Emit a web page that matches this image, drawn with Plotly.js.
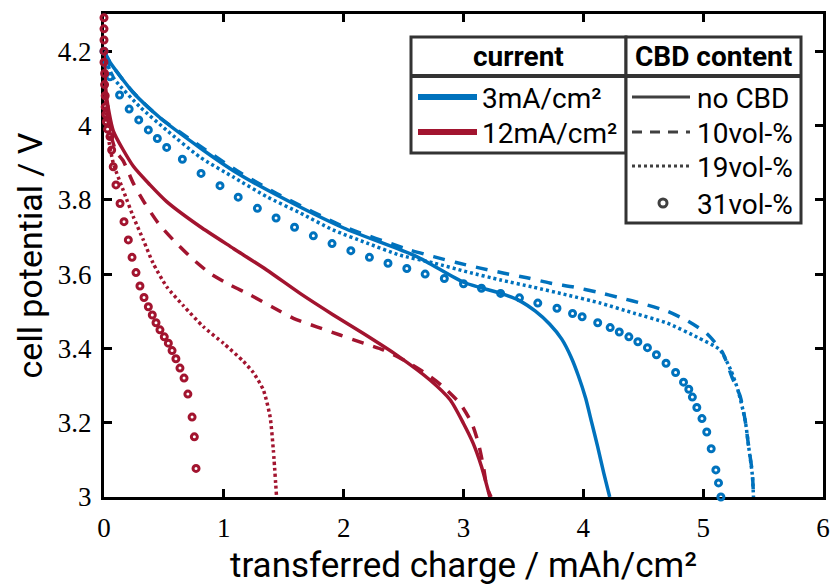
<!DOCTYPE html>
<html>
<head>
<meta charset="utf-8">
<script src="https://cdn.plot.ly/plotly-3.0.1.min.js"></script>
<style>html,body{margin:0;padding:0;background:#fff;}#chart{width:830px;height:586px;}</style>
</head>
<body>
<div id="chart"></div>
<script>
// ---- data (transferred charge in mAh/cm², cell potential in V) ----
const blueSolidQ = [0, 0.05, 0.24, 0.47, 0.80, 1.11, 1.47, 2.00, 2.61, 3.00, 3.31, 3.47, 3.60, 3.72, 3.82, 3.90, 3.96, 4.02, 4.07, 4.12, 4.17, 4.22];
const blueSolidV = [4.20, 4.17, 4.09, 4.02, 3.94, 3.872, 3.808, 3.724, 3.647, 3.578, 3.548, 3.528, 3.50, 3.465, 3.425, 3.375, 3.325, 3.265, 3.20, 3.135, 3.065, 3.0];

const blueDashQ = [0, 0.05, 0.24, 0.47, 0.80, 1.11, 1.47, 2.00, 2.55, 2.75, 2.94, 3.14, 3.33, 3.53, 3.72, 3.92, 4.11, 4.31, 4.50, 4.70, 4.87, 5.03, 5.16, 5.24, 5.31, 5.35, 5.38, 5.41, 5.42];
const blueDashV = [4.20, 4.17, 4.09, 4.02, 3.945, 3.878, 3.812, 3.728, 3.665, 3.647, 3.631, 3.616, 3.603, 3.59, 3.576, 3.565, 3.552, 3.536, 3.52, 3.50, 3.474, 3.44, 3.39, 3.323, 3.27, 3.207, 3.135, 3.065, 3.0];

const blueDotQ = [0, 0.08, 0.30, 0.52, 0.80, 1.08, 1.36, 1.64, 1.91, 2.19, 2.47, 2.75, 3.03, 3.31, 3.58, 3.86, 4.14, 4.42, 4.70, 4.95, 5.14, 5.23, 5.29, 5.35, 5.38, 5.41, 5.42];
const blueDotV = [4.19, 4.128, 4.05, 3.988, 3.915, 3.861, 3.808, 3.764, 3.719, 3.684, 3.651, 3.63, 3.606, 3.584, 3.565, 3.544, 3.522, 3.495, 3.468, 3.43, 3.396, 3.342, 3.288, 3.207, 3.135, 3.06, 3.0];

const blueCircQ = [0, 0.02, 0.05, 0.13, 0.21, 0.29, 0.37, 0.445, 0.523, 0.654, 0.81, 0.968, 1.12, 1.28, 1.436, 1.59, 1.747, 1.903, 2.06, 2.215, 2.37, 2.527, 2.68, 2.84, 3.0, 3.15, 3.31, 3.467, 3.62, 3.78, 3.91, 3.99, 4.12, 4.224, 4.30, 4.38, 4.455, 4.535, 4.61, 4.69, 4.77, 4.836, 4.88, 4.91, 4.947, 4.99, 5.03, 5.067, 5.106, 5.128, 5.148];
const blueCircV = [4.20, 4.165, 4.131, 4.082, 4.044, 4.015, 3.988, 3.965, 3.941, 3.909, 3.871, 3.838, 3.807, 3.777, 3.751, 3.726, 3.703, 3.682, 3.663, 3.645, 3.629, 3.615, 3.60, 3.588, 3.574, 3.562, 3.548, 3.536, 3.522, 3.508, 3.494, 3.485, 3.469, 3.456, 3.444, 3.431, 3.418, 3.402, 3.383, 3.36, 3.335, 3.309, 3.29, 3.269, 3.241, 3.211, 3.175, 3.13, 3.073, 3.038, 3.0];

const redSolidQ = [0, 0.02, 0.078, 0.245, 0.384, 0.523, 0.80, 1.08, 1.358, 1.636, 1.914, 2.165, 2.443, 2.72, 2.89, 3.0, 3.08, 3.15, 3.22];
const redSolidV = [4.20, 4.08, 3.985, 3.89, 3.84, 3.795, 3.728, 3.669, 3.611, 3.548, 3.49, 3.44, 3.382, 3.315, 3.261, 3.198, 3.145, 3.082, 3.0];

const redDashQ = [0, 0.04, 0.10, 0.16, 0.245, 0.342, 0.453, 0.578, 0.732, 0.885, 1.05, 1.22, 1.40, 1.58, 1.775, 1.97, 2.165, 2.33, 2.50, 2.665, 2.83, 2.97, 3.07, 3.124, 3.166, 3.194, 3.23];
const redDashV = [4.15, 4.0, 3.93, 3.905, 3.844, 3.79, 3.737, 3.692, 3.643, 3.602, 3.571, 3.544, 3.512, 3.481, 3.458, 3.436, 3.414, 3.396, 3.369, 3.337, 3.297, 3.252, 3.198, 3.145, 3.082, 3.028, 3.0];

const redDotQ = [0, 0.03, 0.078, 0.16, 0.245, 0.328, 0.41, 0.523, 0.662, 0.83, 0.996, 1.163, 1.246, 1.33, 1.386, 1.413, 1.44];
const redDotV = [4.10, 3.98, 3.898, 3.826, 3.754, 3.692, 3.629, 3.566, 3.515, 3.458, 3.414, 3.365, 3.335, 3.288, 3.216, 3.127, 3.0];

const redCircQ = [0, 0, 0, 0, 0, 0.005, 0.005, 0.01, 0.01, 0.015, 0.02, 0.03, 0.05, 0.064, 0.077, 0.1, 0.134, 0.167, 0.203, 0.234, 0.267, 0.30, 0.334, 0.37, 0.403, 0.434, 0.467, 0.503, 0.537, 0.568, 0.60, 0.634, 0.668, 0.70, 0.735, 0.754, 0.768];
const redCircV = [4.29, 4.26, 4.23, 4.20, 4.17, 4.14, 4.11, 4.08, 4.05, 4.03, 4.01, 3.99, 3.97, 3.934, 3.889, 3.84, 3.79, 3.741, 3.692, 3.645, 3.604, 3.568, 3.537, 3.512, 3.49, 3.469, 3.45, 3.431, 3.414, 3.394, 3.372, 3.347, 3.32, 3.277, 3.215, 3.162, 3.077];

const currentLabels = ["3mA/cm²", "12mA/cm²"];
const cbdLabels = ["no CBD", "10vol-%", "19vol-%", "31vol-%"];
const xTitle = "transferred charge / mAh/cm²";
const yTitle = "cell potential / V";

// ---- styles ----
const BLUE = "#0072BD", RED = "#A2142F", GRAY = "#404040", FRAME = "#333333";
const LW = 3.5;
const DASH = "12px,10px", DOT = "3px,3px";
const SANS = "Roboto";
const SERIF = "Liberation Serif";

function lineTrace(x, y, color, dash) {
  return {x: x, y: y, type: "scatter", mode: "lines", showlegend: false, hoverinfo: "skip",
          line: {color: color, width: LW, dash: dash, shape: "spline", smoothing: 0.6}};
}
function circTrace(x, y, color) {
  return {x: x, y: y, type: "scatter", mode: "markers", showlegend: false, hoverinfo: "skip", cliponaxis: false,
          marker: {symbol: "circle-open", size: 6, color: color, line: {color: color, width: 3}}};
}

const traces = [
  lineTrace(blueSolidQ, blueSolidV, BLUE, "solid"),
  lineTrace(blueDashQ, blueDashV, BLUE, DASH),
  lineTrace(blueDotQ, blueDotV, BLUE, DOT),
  circTrace(blueCircQ, blueCircV, BLUE),
  lineTrace(redSolidQ, redSolidV, RED, "solid"),
  lineTrace(redDashQ, redDashV, RED, DASH),
  lineTrace(redDotQ, redDotV, RED, DOT),
  circTrace(redCircQ, redCircV, RED)
];

// ---- layout geometry (pixels -> paper) ----
const W = 830, H = 586, L = 104, R = 823, T = 14, B = 497;
const PX = p => (p - L) / (R - L);
const PY = p => (B - p) / (B - T);

const shapes = [];
const annotations = [];
function rect(x0, y0, x1, y1) {
  shapes.push({type: "rect", xref: "paper", yref: "paper", x0: PX(x0), x1: PX(x1), y0: PY(y0), y1: PY(y1),
               line: {color: FRAME, width: 3}, fillcolor: "#ffffff", layer: "above"});
}
function hline(x0, x1, y, color, width, dash) {
  shapes.push({type: "line", xref: "paper", yref: "paper", x0: PX(x0), x1: PX(x1), y0: PY(y), y1: PY(y),
               line: {color: color, width: width, dash: dash || "solid"}, layer: "above"});
}
function text(t, x, y, anchor, bold) {
  annotations.push({text: bold ? "<b>" + t + "</b>" : t, xref: "paper", yref: "paper", x: PX(x), y: PY(y),
                    xanchor: anchor, yanchor: "middle", showarrow: false,
                    font: {family: SANS, size: 28, color: "#000"}});
}
// box 1: current
rect(411, 37, 626, 153);
hline(411, 626, 76, FRAME, 4);
text("current", 518, 57, "center", true);
hline(418, 477, 97, BLUE, 6);
hline(418, 477, 132, RED, 6);
text(currentLabels[0], 480, 98, "left");
text(currentLabels[1], 480, 133, "left");
// box 2: CBD content
rect(626, 37, 801, 223);
hline(626, 801, 76, FRAME, 4);
text("CBD content", 713, 57, "center", true);
hline(632, 690, 97, GRAY, 3);
hline(632, 690, 132, GRAY, 3, "10px,8px");
hline(632, 690, 166, GRAY, 3, DOT);
shapes.push({type: "circle", xref: "paper", yref: "paper", x0: PX(659), x1: PX(667), y0: PY(199), y1: PY(207),
             line: {color: GRAY, width: 3}, fillcolor: "#ffffff", layer: "above"});
text(cbdLabels[0], 695, 98, "left");
text(cbdLabels[1], 695, 133, "left");
text(cbdLabels[2], 695, 167, "left");
text(cbdLabels[3], 695, 204, "left");

const layout = {
  width: W, height: H,
  margin: {l: L, r: W - R, t: T, b: H - B},
  paper_bgcolor: "#fff", plot_bgcolor: "#fff",
  font: {family: SERIF, size: 27, color: "#000"},
  showlegend: false,
  xaxis: {
    showgrid: false, zeroline: false, showline: true, linecolor: "#000", linewidth: 3,
    mirror: "ticks", ticks: "inside", ticklen: 8, tickwidth: 3, tickcolor: "#000",
    layer: "below traces",
    tickfont: {family: SERIF, size: 27, color: "#000"},
    range: [0, 6], dtick: 1, tick0: 0, ticklabelstandoff: 5,
    title: {text: xTitle, font: {family: SANS, size: 35, color: "#000"}, standoff: 19}
  },
  yaxis: {
    showgrid: false, zeroline: false, showline: true, linecolor: "#000", linewidth: 3,
    mirror: "ticks", ticks: "inside", ticklen: 8, tickwidth: 3, tickcolor: "#000",
    layer: "below traces",
    tickfont: {family: SERIF, size: 27, color: "#000"},
    range: [3, 4.3], dtick: 0.2, tick0: 3, ticklabelstandoff: 4,
    title: {text: yTitle, font: {family: SANS, size: 34, color: "#000"}, standoff: 5}
  },
  shapes: shapes,
  annotations: annotations
};

Plotly.newPlot("chart", traces, layout, {staticPlot: true, displayModeBar: false});
</script>
</body>
</html>
